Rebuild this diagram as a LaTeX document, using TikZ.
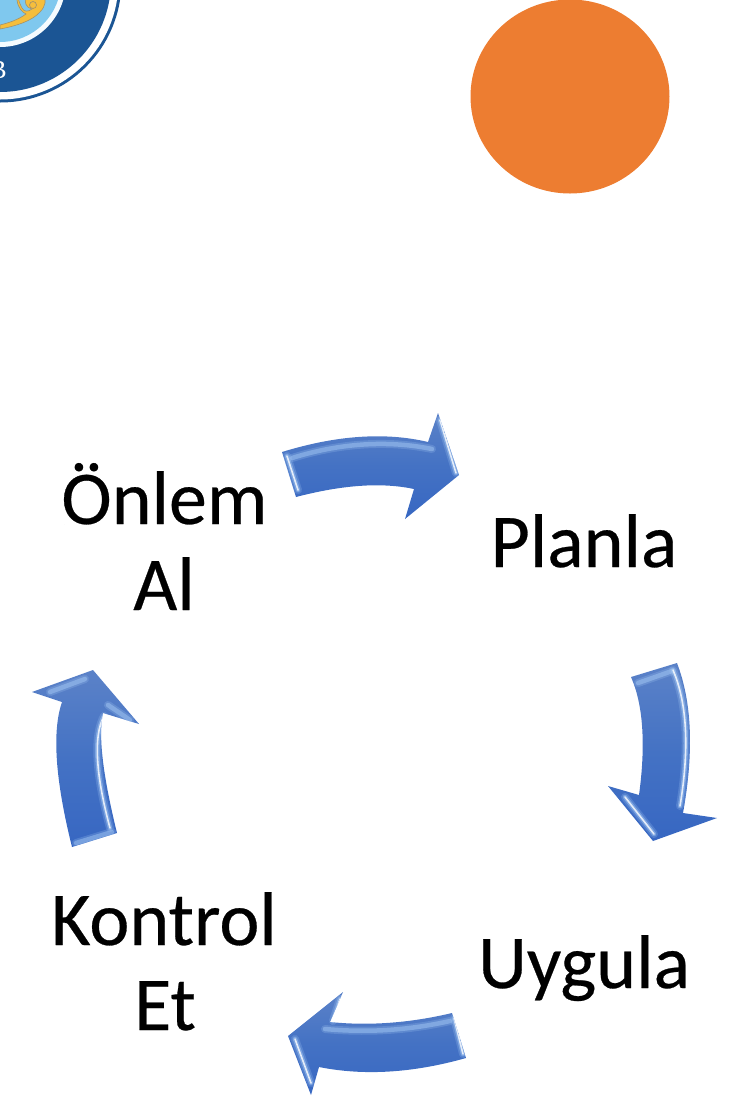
\documentclass[tikz,border=0pt]{standalone}
\usepackage{fontspec}
\setmainfont{Carlito}
\newfontfamily\logofont{Liberation Serif}
\definecolor{logoblue}{HTML}{1B5594}
\definecolor{logosky}{HTML}{7FC8EE}
\definecolor{logogold}{HTML}{F5BE3C}
\definecolor{sunorange}{HTML}{ED7D31}
\definecolor{arrowtop}{HTML}{5B82C8}
\definecolor{arrowmid}{HTML}{4472C4}
\definecolor{arrowlow}{HTML}{3767C2}
\definecolor{bevelsoft}{HTML}{A9CDF7}
\tikzset{
  label text/.style={font=\fontsize{76}{76}\selectfont\addfontfeature{FakeBold=0.35},text=black,anchor=base,inner sep=0pt},
  arrow body/.style={top color=arrowtop,bottom color=arrowlow,middle color=arrowmid},
  glow wide/.style={draw=bevelsoft,line width=8pt,opacity=.22,line cap=round,line join=round},
  glow/.style={draw=bevelsoft,line width=4.5pt,opacity=.45,line cap=round,line join=round},
  shine/.style={draw=white,line width=1.6pt,opacity=.8,line cap=round,line join=round},
}
% soft pale band, and soft band with a bright core
\newcommand{\softline}[1]{\path[glow wide] #1;\path[glow] #1;}
\newcommand{\bevelline}[1]{\path[glow wide] #1;\path[glow] #1;\path[shine] #1;}
\begin{document}
\begin{tikzpicture}[x=1pt,y=-1pt]
\useasboundingbox (0,0) rectangle (741,1096);
% logo
\begin{scope}
\clip (0,0) rectangle (741,1096);
\fill[logoblue] (0,-19) circle (121.5);
\fill[white] (0,-19) circle (118.5);
\fill[logoblue] (0,-19) circle (111);
\fill[white!92!logosky] (0,-19) circle (66);
\fill[logosky] (0,-19) circle (61);
\fill[logogold,draw=gray!70!logogold,line width=.6pt]
  (0,29) .. controls (16,26) and (32,21) .. (40,12)
  .. controls (46,6) and (46,-1) .. (44,-3) -- (26,-3)
  .. controls (24,2) and (26,8) .. (32,9)
  .. controls (28,12) and (24,12) .. (22,8)
  .. controls (20,4) and (19,2) .. (18,-3) -- (17,0)
  .. controls (18,8) and (22,12) .. (26,14)
  .. controls (18,20) and (8,23) .. (0,25) -- cycle;
\draw[gray!70!logogold,line width=.7pt] (33,5) circle (3.5);
\node[anchor=base,inner sep=0pt,text=white,font=\fontsize{26}{26}\selectfont\logofont] (logoletter) at (-2,78) {B};
\end{scope}
% orange circle
\fill[sunorange] (570,96.5) ellipse [x radius=99.5, y radius=97];
% labels
\node[label text] (onlem) at (164.5,524) {Önlem};
\node[label text] (al) at (164,610) {Al};
\node[label text] (planla) at (584,567) {Planla};
\node[label text] (uygula) at (584,988) {Uygula};
\node[label text] (kontrol) at (164,945) {Kontrol};
\node[label text] (et) at (165,1030) {Et};
% arrow 1: top
\begin{scope}
\def\shp{(282,452) .. controls (337,435) and (386,432) .. (428,442) -- (438,413) -- (459,475) -- (405,519) -- (414,489) .. controls (381,482) and (342,485) .. (296,497) -- cycle}
\path[arrow body] \shp;
\clip \shp;
\softline{(292,458) .. controls (340,443) and (388,440) .. (432,449)}
\bevelline{(287,456) -- (298,490)}
\bevelline{(440,420) -- (456,473)}
\end{scope}
% arrow 2: right
\begin{scope}
\def\shp{(631,677) -- (677,663) .. controls (692,702) and (694,752) .. (683,813) -- (717,818) -- (653,841) -- (608,786) -- (639,795) .. controls (646,744) and (643,704) .. (631,677) -- cycle}
\path[arrow body] \shp;
\clip \shp;
\softline{(638,683) -- (672,671)}
\bevelline{(673,670) .. controls (688,705) and (689,752) .. (680,806)}
\bevelline{(625,797) -- (654,834)}
\end{scope}
% arrow 3: bottom
\begin{scope}
\def\shp{(452,1013) .. controls (410,1023) and (369,1026) .. (330,1022) -- (343,992) -- (288,1036) -- (311,1095) -- (319,1067) .. controls (364,1076) and (413,1073) .. (466,1058) -- cycle}
\path[arrow body] \shp;
\clip \shp;
\softline{(325,1029) .. controls (369,1033) and (410,1030) .. (450,1021)}
\bevelline{(454,1018) -- (463,1054)}
\bevelline{(295,1039) -- (311,1083)}
\bevelline{(333,1021) -- (340,999)}
\end{scope}
% arrow 4: left
\begin{scope}
\def\shp{(72,847) -- (117,833) .. controls (103,776) and (98,736) .. (103,713) -- (139,724) -- (93,670) -- (32,692) -- (62,702) .. controls (52,731) and (55,779) .. (72,847) -- cycle}
\path[arrow body] \shp;
\clip \shp;
\bevelline{(110,828) .. controls (96,776) and (93,736) .. (104,716)}
\softline{(50,692) -- (85,679)}
\softline{(108,705) -- (130,720)}
\softline{(76,843) -- (112,832)}
\end{scope}
\end{tikzpicture}
\end{document}
